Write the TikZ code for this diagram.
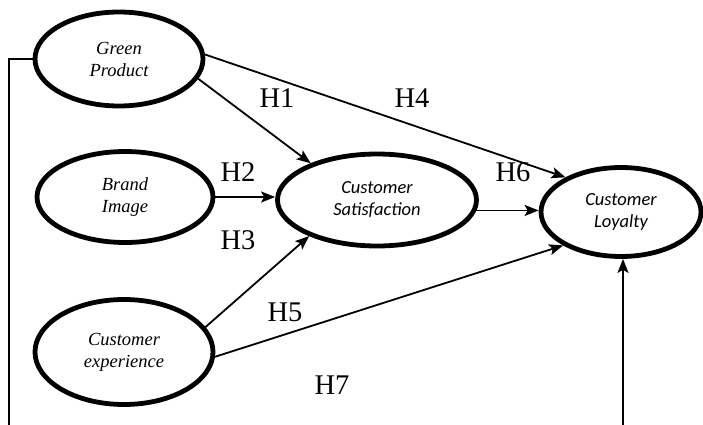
\documentclass[tikz,border=0pt]{standalone}
\usepackage{fontspec}
\setmainfont{Liberation Serif}
\newfontfamily\tnrfont{Liberation Serif}
\newfontfamily\tnritfont{Liberation Serif Italic}
\newfontfamily\calfont{Carlito}
\usetikzlibrary{shapes.geometric,arrows.meta}
\begin{document}
\begin{tikzpicture}[x=1pt,y=-1pt,
  construct/.style={ellipse,draw,line width=4.8pt,inner sep=0pt,align=center,
    font=\tnritfont\fontsize{18.5}{22}\selectfont},
  sanscon/.style={construct,font=\calfont\fontsize{18.5}{22}\selectfont\itshape},
  path/.style={line width=1.8pt,-{Stealth[length=14pt,width=11pt,inset=3pt]}},
  plain/.style={line width=1.8pt},
  hyp/.style={font=\tnrfont\fontsize{28.5}{28.5}\selectfont,inner sep=0pt}]
\useasboundingbox (0,0) rectangle (703,425);
\node[construct,minimum width=168pt,minimum height=94pt] (gp) at (119,59) {Green\\Product};
\node[construct,minimum width=176pt,minimum height=91pt] (bi) at (125,197) {Brand\\Image};
\node[construct,minimum width=178pt,minimum height=105pt] (ce) at (124,352) {Customer\\experience};
\node[sanscon,minimum width=199pt,minimum height=92pt] (cs) at (377,200) {Customer\\Satisfaction};
\node[sanscon,minimum width=160pt,minimum height=89pt] (cl) at (621,212) {Customer\\Loyalty};
\coordinate (lb) at (9,425);
\coordinate (rb) at (623,425);
% connectors
\draw[path] (gp.-14) -- (cs.151);
\draw[path] (gp.3) -- (cl.148);
\draw[path] (bi.east) -- (bi.east -| cs.west);
\draw[path] (ce.17) -- (cs.208);
\draw[path] (ce.-3) -- (cl.210);
\draw[path] (cs.-6) -- (cs.-6 -| cl.west);
\draw[path] (rb) -- (rb |- cl.south);
\draw[plain] (gp.west) -| (lb);
% labels
\node[hyp] (h1) at (277,98) {H1};
\node[hyp] (h4) at (412,98) {H4};
\node[hyp] (h2) at (238,172) {H2};
\node[hyp] (h3) at (238,240) {H3};
\node[hyp] (h6) at (513,172) {H6};
\node[hyp] (h5) at (285,312) {H5};
\node[hyp] (h7) at (332,385) {H7};
\end{tikzpicture}
\end{document}
